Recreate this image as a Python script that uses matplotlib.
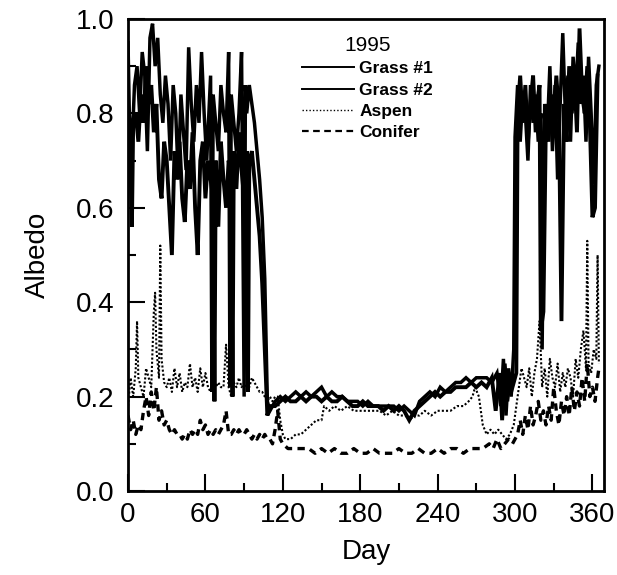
import numpy as np
import matplotlib
matplotlib.use("Agg")
import matplotlib.pyplot as plt
from matplotlib.lines import Line2D
from matplotlib.ticker import MultipleLocator

plt.rcParams['font.family'] = ['Liberation Sans', 'DejaVu Sans']

# Grass #1 (solid)
g1_day = [0, 1, 3, 5, 7, 9, 11, 13, 15, 17,
          19, 21, 23, 25, 27, 29, 31, 33, 35, 37,
          39, 41, 43, 45, 47, 49, 51, 53, 55, 57,
          59, 61, 63, 64, 65, 66, 68, 70, 72, 74,
          76, 78, 79, 80, 82, 84, 86, 88, 90, 91,
          92, 94, 96, 98, 100, 102, 104, 106, 108, 110,
          114, 118, 122, 126, 130, 134, 138, 142, 146, 150,
          154, 158, 162, 166, 170, 174, 178, 182, 186, 190,
          194, 198, 202, 206, 210, 214, 218, 222, 226, 230,
          234, 238, 242, 246, 250, 254, 258, 262, 266, 270,
          274, 278, 282, 286, 289, 291, 293, 295, 297, 299,
          300, 302, 304, 306, 308, 310, 312, 314, 316, 318,
          320, 321, 323, 325, 327, 329, 331, 333, 335, 337,
          339, 341, 343, 345, 347, 349, 351, 353, 355, 357,
          359, 361, 363, 365]
g1_val = [0.95, 0.80, 0.72, 0.86, 0.90, 0.80, 0.93, 0.88, 0.72, 0.96,
          0.99, 0.90, 0.96, 0.84, 0.78, 0.88, 0.82, 0.70, 0.86, 0.80,
          0.66, 0.84, 0.76, 0.68, 0.94, 0.82, 0.74, 0.86, 0.78, 0.93,
          0.80, 0.70, 0.82, 0.88, 0.21, 0.84, 0.78, 0.72, 0.86, 0.80,
          0.76, 0.93, 0.22, 0.84, 0.78, 0.72, 0.80, 0.93, 0.20, 0.86,
          0.80, 0.86, 0.82, 0.78, 0.72, 0.66, 0.58, 0.45, 0.19, 0.17,
          0.19, 0.20, 0.19, 0.20, 0.21, 0.20, 0.21, 0.20, 0.21, 0.22,
          0.20, 0.21, 0.20, 0.20, 0.19, 0.19, 0.19, 0.18, 0.19, 0.18,
          0.18, 0.18, 0.18, 0.18, 0.17, 0.18, 0.17, 0.16, 0.19, 0.20,
          0.21, 0.20, 0.22, 0.21, 0.22, 0.23, 0.23, 0.24, 0.23, 0.24,
          0.24, 0.24, 0.23, 0.25, 0.18, 0.28, 0.16, 0.26, 0.20, 0.30,
          0.75, 0.86, 0.74, 0.84, 0.80, 0.70, 0.86, 0.78, 0.84, 0.74,
          0.80, 0.30, 0.82, 0.76, 0.90, 0.72, 0.86, 0.66, 0.82, 0.97,
          0.80, 0.88, 0.74, 0.92, 0.84, 0.95, 0.82, 0.88, 0.74, 0.92,
          0.80, 0.65, 0.86, 0.90]

# Grass #2 (solid)
g2_day = [0, 2, 3, 4, 6, 8, 10, 12, 14, 16,
          18, 20, 22, 24, 26, 28, 30, 32, 34, 36,
          38, 40, 42, 44, 46, 48, 50, 52, 54, 56,
          58, 60, 62, 64, 66, 67, 68, 70, 72, 74,
          76, 78, 80, 81, 82, 84, 86, 88, 90, 92,
          93, 94, 96, 98, 100, 102, 104, 106, 108, 110,
          114, 118, 122, 126, 130, 134, 138, 142, 146, 150,
          154, 158, 162, 166, 170, 174, 178, 182, 186, 190,
          194, 198, 202, 206, 210, 214, 218, 222, 226, 230,
          234, 238, 242, 246, 250, 254, 258, 262, 266, 270,
          274, 278, 282, 285, 288, 290, 292, 294, 296, 298,
          301, 302, 304, 306, 308, 310, 312, 314, 316, 318,
          319, 320, 322, 324, 326, 328, 330, 332, 334, 336,
          338, 340, 342, 344, 346, 348, 350, 352, 354, 356,
          358, 360, 362, 364]
g2_val = [0.75, 0.68, 0.56, 0.78, 0.80, 0.74, 0.84, 0.78, 0.90, 0.82,
          0.86, 0.76, 0.82, 0.66, 0.62, 0.74, 0.70, 0.60, 0.50, 0.72,
          0.66, 0.74, 0.62, 0.57, 0.70, 0.64, 0.76, 0.60, 0.50, 0.70,
          0.74, 0.62, 0.70, 0.66, 0.62, 0.19, 0.70, 0.56, 0.74, 0.66,
          0.60, 0.70, 0.66, 0.20, 0.72, 0.64, 0.76, 0.68, 0.62, 0.72,
          0.21, 0.70, 0.72, 0.66, 0.60, 0.54, 0.44, 0.30, 0.16, 0.18,
          0.18, 0.19, 0.20, 0.19, 0.19, 0.20, 0.19, 0.20, 0.20, 0.19,
          0.20, 0.19, 0.19, 0.20, 0.19, 0.18, 0.18, 0.19, 0.18, 0.18,
          0.18, 0.17, 0.18, 0.17, 0.18, 0.17, 0.15, 0.17, 0.18, 0.19,
          0.20, 0.21, 0.20, 0.21, 0.21, 0.22, 0.22, 0.22, 0.23, 0.22,
          0.23, 0.22, 0.24, 0.17, 0.25, 0.15, 0.27, 0.19, 0.24, 0.22,
          0.25, 0.80, 0.88, 0.78, 0.86, 0.74, 0.82, 0.88, 0.76, 0.84,
          0.86, 0.34, 0.38, 0.80, 0.74, 0.84, 0.78, 0.88, 0.80, 0.36,
          0.82, 0.74, 0.90, 0.80, 0.88, 0.76, 0.98, 0.84, 0.80, 0.90,
          0.78, 0.58, 0.60, 0.88]

# Aspen (dotted)
asp_day = [0, 2, 4, 6, 7, 8, 10, 12, 14, 16,
           18, 20, 21, 22, 24, 25, 26, 28, 30, 32,
           34, 36, 38, 40, 42, 44, 46, 48, 50, 52,
           54, 56, 58, 60, 62, 64, 66, 68, 70, 72,
           74, 76, 78, 80, 82, 84, 86, 88, 90, 92,
           94, 96, 98, 100, 102, 104, 106, 108, 110, 112,
           114, 116, 118, 120, 122, 124, 126, 130, 134, 138,
           142, 146, 150, 152, 156, 160, 165, 170, 175, 180,
           185, 190, 195, 200, 205, 210, 215, 218, 222, 226,
           230, 235, 240, 245, 250, 255, 260, 264, 267, 269,
           272, 275, 278, 281, 284, 287, 290, 293, 296, 299,
           301, 303, 305, 307, 309, 311, 313, 315, 317, 319,
           321, 323, 325, 327, 329, 331, 333, 335, 337, 339,
           341, 343, 345, 347, 349, 351, 353, 355, 356, 357,
           359, 361, 363, 364, 365]
asp_val = [0.18, 0.24, 0.20, 0.26, 0.36, 0.24, 0.22, 0.20, 0.26, 0.24,
           0.22, 0.38, 0.42, 0.30, 0.24, 0.52, 0.28, 0.23, 0.22, 0.24,
           0.21, 0.26, 0.22, 0.25, 0.21, 0.23, 0.22, 0.27, 0.22, 0.24,
           0.21, 0.26, 0.22, 0.25, 0.22, 0.21, 0.24, 0.22, 0.23, 0.22,
           0.22, 0.31, 0.22, 0.20, 0.23, 0.22, 0.24, 0.22, 0.23, 0.22,
           0.22, 0.24, 0.23, 0.22, 0.21, 0.21, 0.20, 0.19, 0.20, 0.19,
           0.20, 0.20, 0.15, 0.12, 0.11, 0.11, 0.11, 0.12, 0.12, 0.13,
           0.14, 0.15, 0.15, 0.18, 0.17, 0.18, 0.17, 0.18, 0.17, 0.17,
           0.17, 0.17, 0.17, 0.16, 0.17, 0.16, 0.16, 0.15, 0.16, 0.16,
           0.17, 0.16, 0.17, 0.17, 0.17, 0.18, 0.18, 0.19, 0.20, 0.22,
           0.20, 0.14, 0.12, 0.13, 0.12, 0.13, 0.12, 0.11, 0.12, 0.14,
           0.18, 0.22, 0.26, 0.24, 0.22, 0.26, 0.20, 0.25, 0.28, 0.36,
           0.22, 0.26, 0.20, 0.28, 0.24, 0.22, 0.27, 0.21, 0.25, 0.22,
           0.26, 0.24, 0.20, 0.28, 0.24, 0.30, 0.34, 0.26, 0.53, 0.27,
           0.25, 0.30, 0.28, 0.50, 0.27]

# Conifer (dashed)
con_day = [0, 2, 4, 6, 8, 10, 12, 14, 16, 18,
           20, 22, 24, 26, 28, 30, 32, 34, 36, 38,
           40, 42, 44, 46, 48, 50, 52, 54, 56, 58,
           60, 62, 64, 66, 68, 70, 72, 74, 76, 78,
           80, 82, 84, 86, 88, 90, 92, 94, 96, 98,
           100, 102, 104, 106, 108, 110, 112, 114, 116, 118,
           120, 124, 128, 132, 136, 140, 145, 150, 155, 160,
           165, 170, 175, 180, 185, 190, 195, 200, 205, 210,
           215, 220, 225, 230, 235, 240, 245, 250, 255, 260,
           265, 270, 275, 280, 283, 286, 289, 292, 295, 298,
           300, 302, 304, 306, 308, 310, 312, 314, 316, 318,
           320, 322, 324, 326, 328, 330, 332, 334, 336, 338,
           340, 342, 344, 346, 348, 350, 352, 354, 356, 358,
           360, 362, 364, 365]
con_val = [0.16, 0.13, 0.15, 0.12, 0.14, 0.13, 0.17, 0.20, 0.16, 0.21,
           0.17, 0.22, 0.15, 0.17, 0.14, 0.15, 0.13, 0.12, 0.13, 0.12,
           0.12, 0.11, 0.12, 0.11, 0.13, 0.12, 0.13, 0.12, 0.15, 0.13,
           0.14, 0.12, 0.13, 0.12, 0.13, 0.12, 0.13, 0.14, 0.17, 0.12,
           0.12, 0.13, 0.12, 0.13, 0.12, 0.12, 0.13, 0.12, 0.11, 0.12,
           0.11, 0.12, 0.11, 0.12, 0.11, 0.11, 0.10, 0.13, 0.17, 0.11,
           0.10, 0.09, 0.09, 0.09, 0.09, 0.09, 0.08, 0.09, 0.08, 0.09,
           0.08, 0.08, 0.09, 0.08, 0.08, 0.09, 0.08, 0.08, 0.08, 0.09,
           0.08, 0.08, 0.09, 0.08, 0.08, 0.09, 0.08, 0.09, 0.09, 0.08,
           0.09, 0.09, 0.09, 0.10, 0.09, 0.11, 0.09, 0.10, 0.11, 0.10,
           0.11, 0.12, 0.15, 0.12, 0.16, 0.13, 0.18, 0.14, 0.16, 0.19,
           0.15, 0.17, 0.14, 0.18, 0.15, 0.22, 0.17, 0.14, 0.19, 0.16,
           0.20, 0.16, 0.22, 0.17, 0.21, 0.18, 0.24, 0.19, 0.27, 0.20,
           0.22, 0.19, 0.24, 0.26]

labels = ["Grass #1", "Grass #2", "Aspen", "Conifer"]

fig = plt.figure(figsize=(6.17, 5.75), dpi=100)
ax = fig.add_axes([0.2075, 0.146, 0.7715, 0.821])

ax.plot(g1_day, g1_val, color='black', lw=2.5, solid_joinstyle='miter')
ax.plot(g2_day, g2_val, color='black', lw=2.8, solid_joinstyle='miter')
ax.plot(asp_day, asp_val, color='black', lw=1.5, linestyle=(0, (1, 1.0)))
ax.plot(con_day, con_val, color='black', lw=2.4, linestyle=(0, (2.2, 1.6)))

ax.set_xlim(0, 369)
ax.set_ylim(0, 1.0)
ax.xaxis.set_major_locator(MultipleLocator(60))
ax.xaxis.set_minor_locator(MultipleLocator(30))
ax.yaxis.set_major_locator(MultipleLocator(0.2))
ax.yaxis.set_minor_locator(MultipleLocator(0.1))
ax.yaxis.set_major_formatter(matplotlib.ticker.FormatStrFormatter('%.1f'))
ax.tick_params(which='both', direction='in', width=1.5, labelsize=20,
               top=False, right=False)
ax.tick_params(which='major', length=12, pad=8)
ax.tick_params(which='minor', length=6)
ax.tick_params(axis='y', pad=10)
for s in ax.spines.values():
    s.set_linewidth(2)

ax.set_xlabel("Day", fontsize=20, labelpad=8)
ax.set_ylabel("Albedo", fontsize=20, labelpad=18)

handles = [Line2D([], [], color='black', lw=1.4),
           Line2D([], [], color='black', lw=1.4),
           Line2D([], [], color='black', lw=1.0, linestyle=(0, (1, 1.5))),
           Line2D([], [], color='black', lw=1.6, linestyle=(0, (3, 2)))]
leg = ax.legend(handles, labels, title="1995", loc='upper left',
                bbox_to_anchor=(0.34, 0.99), frameon=False,
                prop={'size': 12.5, 'weight': 'bold'}, title_fontsize=15,
                handlelength=3.0, handletextpad=0.3, labelspacing=0.36,
                borderpad=0.2)

fig.savefig("out.png", dpi=100)
